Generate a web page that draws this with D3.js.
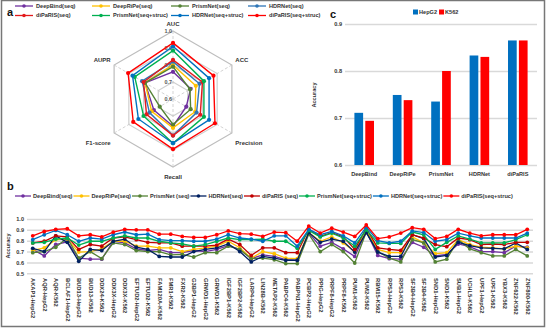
<!DOCTYPE html>
<html>
<head>
<meta charset="utf-8">
<script src="https://cdn.jsdelivr.net/npm/d3@7"></script>
<style>
  body { margin: 0; background: #fff; }
  svg { font-family: "Liberation Sans", Arial, sans-serif; font-weight: bold; }
</style>
</head>
<body>
<div id="chart"></div>
<script>
// ---- panel a: radar ----
const radarAxes = ["AUC", "ACC", "Precision", "Recall", "F1-score", "AUPR"];
const radarTicks = [0.6, 0.7, 0.8, 0.9, 1.0];
const modelNames = ["DeepBind(seq)", "DeepRiPe(seq)", "PrismNet(seq)", "HDRNet(seq)",
                    "diPaRIS(seq)", "PrismNet(seq+struc)", "HDRNet(seq+struc)", "diPaRIS(seq+struc)"];
const radarDeepBind    = [0.76, 0.72, 0.69, 0.76, 0.73, 0.79];
const radarDeepRiPe    = [0.80, 0.755, 0.75, 0.77, 0.745, 0.79];
const radarPrismSeq    = [0.79, 0.715, 0.72, 0.75, 0.69, 0.79];
const radarHdrSeq      = [0.82, 0.78, 0.76, 0.815, 0.76, 0.81];
const radarDiparisSeq  = [0.83, 0.80, 0.785, 0.815, 0.78, 0.80];
const radarPrismStruc  = [0.885, 0.81, 0.81, 0.86, 0.80, 0.86];
const radarHdrStruc    = [0.91, 0.845, 0.845, 0.86, 0.835, 0.875];
const radarDiparisStruc= [0.93, 0.875, 0.885, 0.895, 0.87, 0.905];

// ---- panel b: per-dataset accuracy ----
const datasets = ["AKAP1-HepG2","AQR-HepG2","AQR-K562","BCLAF1-HepG2","BUD13-HepG2","BUD13-K562",
  "DDX24-K562","DDX3X-HepG2","DDX3X-K562","EFTUD2-HepG2","EFTUD2-K562","FAM120A-K562","FMR1-K562",
  "FXR2-K562","G3BP1-HepG2","GRWD1-HepG2","GRWD1-K562","IGF2BP1-K562","IGF2BP2-K562","LARP4-HepG2",
  "LIN28B-K562","METAP2-K562","PABPC4-K562","PABPN1-HepG2","PCBP2-HepG2","PPIG-HepG2","PRPF8-HepG2",
  "PRPF8-K562","PUM1-K562","PUM2-K562","RBM15-K562","RPS3-HepG2","RPS3-K562","SF3B4-HepG2",
  "SF3B4-K562","SND1-HepG2","SND1-K562","SUB1-HepG2","UCHL5-K562","UPF1-HepG2","UPF1-K562",
  "YBX3-K562","ZNF622-K562","ZNF800-K562"];
const lineLegend = ["DeepBind(seq)", "DeepRiPe(seq)", "PrismNet (seq)", "HDRNet(seq)",
                    "diPaRIS (seq)", "PrismNet(seq+struc)", "HDRNet(seq+struc)", "diPaRIS(seq+struc)"];
const accDeepBind = [0.72,0.66,0.765,0.79,0.64,0.63,0.63,0.795,0.78,0.725,0.71,0.72,0.69,0.69,
  0.71,0.70,0.72,0.755,0.72,0.635,0.67,0.655,0.625,0.62,
  0.87,0.75,0.785,0.725,0.655,0.885,
  0.665,0.635,0.63,0.785,0.74,0.66,0.675,0.77,0.745,0.70,0.70,0.69,0.75,0.74];
const accDeepRiPe = [0.71,0.735,0.81,0.815,0.695,0.70,0.725,0.795,0.795,0.75,0.75,0.735,0.735,0.70,
  0.72,0.735,0.75,0.795,0.735,0.64,0.70,0.68,0.64,0.635,
  0.875,0.795,0.835,0.78,0.70,0.895,
  0.72,0.69,0.69,0.835,0.78,0.68,0.69,0.81,0.765,0.74,0.735,0.725,0.75,0.735];
const accPrismSeq = [0.69,0.70,0.74,0.825,0.64,0.70,0.635,0.78,0.765,0.71,0.70,0.70,0.67,0.675,
  0.65,0.69,0.69,0.75,0.72,0.635,0.64,0.625,0.59,0.59,
  0.86,0.70,0.765,0.70,0.595,0.88,
  0.70,0.64,0.605,0.81,0.78,0.605,0.63,0.81,0.725,0.69,0.66,0.66,0.72,0.66];
const accHdrSeq = [0.73,0.70,0.845,0.785,0.61,0.72,0.71,0.795,0.815,0.74,0.72,0.655,0.65,0.65,
  0.70,0.72,0.735,0.77,0.70,0.605,0.655,0.64,0.62,0.62,
  0.875,0.785,0.815,0.795,0.695,0.875,
  0.695,0.655,0.655,0.855,0.82,0.65,0.665,0.785,0.755,0.735,0.73,0.725,0.78,0.72];
const accDiparisSeq = [0.78,0.795,0.845,0.835,0.72,0.765,0.75,0.825,0.835,0.81,0.785,0.78,0.78,0.75,
  0.75,0.75,0.76,0.815,0.765,0.665,0.735,0.735,0.69,0.69,
  0.905,0.84,0.875,0.835,0.72,0.915,
  0.735,0.72,0.71,0.855,0.825,0.765,0.745,0.825,0.81,0.765,0.77,0.765,0.785,0.785];
const accPrismStruc = [0.78,0.785,0.815,0.825,0.76,0.795,0.795,0.825,0.845,0.825,0.825,0.795,0.78,0.77,
  0.75,0.765,0.795,0.825,0.81,0.81,0.815,0.795,0.795,0.73,
  0.895,0.835,0.87,0.825,0.75,0.90,
  0.78,0.775,0.775,0.88,0.855,0.72,0.785,0.845,0.815,0.78,0.78,0.78,0.81,0.855];
const accHdrStruc = [0.81,0.855,0.895,0.855,0.795,0.825,0.815,0.855,0.88,0.855,0.86,0.81,0.80,0.80,
  0.795,0.795,0.815,0.855,0.825,0.815,0.795,0.845,0.845,0.75,
  0.905,0.855,0.885,0.845,0.78,0.925,
  0.80,0.78,0.795,0.89,0.875,0.795,0.81,0.87,0.845,0.825,0.825,0.825,0.825,0.87];
const accDiparisStruc = [0.845,0.885,0.905,0.91,0.845,0.855,0.835,0.88,0.905,0.90,0.90,0.86,0.86,0.84,
  0.83,0.83,0.855,0.89,0.865,0.86,0.84,0.88,0.875,0.795,
  0.935,0.87,0.915,0.88,0.84,0.945,
  0.82,0.835,0.87,0.92,0.905,0.82,0.84,0.905,0.87,0.845,0.855,0.855,0.855,0.905];
const bTicks = [0.5, 0.6, 0.7, 0.8, 0.9, 1.0];

// ---- panel c: overall accuracy ----
const barModels = ["DeepBind", "DeepRiPe", "PrismNet", "HDRNet", "diPaRIS"];
const cellLines = ["HepG2", "K562"];
const accHepG2 = [0.711, 0.749, 0.735, 0.833, 0.865];
const accK562  = [0.694, 0.738, 0.800, 0.830, 0.865];
const cTicks = [0.6, 0.7, 0.8, 0.9];

const colorsA = ["#7030a0", "#ffc000", "#548235", "#2e75b6", "#e31a1c", "#00b050", "#0070c0", "#ff0000"];
const colorsB = ["#7030a0", "#ffc000", "#548235", "#002060", "#c00000", "#00b050", "#0070c0", "#ff0000"];
const textCol = "#333";
const gridCol = "#d9d9d9";

const W = 546, H = 329;
const svg = d3.select("#chart").append("svg").attr("width", W).attr("height", H);

// outer frame
svg.append("rect").attr("x", 1.5).attr("y", 0.5).attr("width", 543).attr("height", 326)
  .attr("fill", "none").attr("stroke", "#777").attr("stroke-width", 1.5);

// panel letters
[["a", 7, 16], ["b", 7, 190], ["c", 330, 18]].forEach(([t, x, y]) => {
  svg.append("text").attr("x", x).attr("y", y).attr("font-size", 11).attr("fill", "#111").text(t);
});

// ================= a =================
const radarSeries = [radarDeepBind, radarDeepRiPe, radarPrismSeq, radarHdrSeq,
                     radarDiparisSeq, radarPrismStruc, radarHdrStruc, radarDiparisStruc];

// legend a (two rows of four)
const legACols = [15, 92, 171, 248];
modelNames.forEach((name, i) => {
  const row = i < 4 ? 0 : 1, col = i % 4;
  const g = svg.append("g").attr("transform", `translate(${legACols[col]},${6 + row * 9.5})`);
  g.append("line").attr("x1", 0).attr("x2", 18).attr("stroke", colorsA[i]).attr("stroke-width", 1.3);
  g.append("circle").attr("cx", 9).attr("r", 1.8).attr("fill", colorsA[i]);
  g.append("text").attr("x", 21).attr("dy", "0.35em").attr("font-size", 5.6).attr("fill", textCol).text(name);
});

const cx = 173, cy = 99, R = 68;
const rScale = d3.scaleLinear().domain([0.6, 1.0]).range([0, R]);
const ang = i => -Math.PI / 2 + i * Math.PI / 3;
const pt = (v, i) => [cx + rScale(v) * Math.cos(ang(i)), cy + rScale(v) * Math.sin(ang(i))];
const ga = svg.append("g");

radarTicks.slice(1).forEach(t => {
  ga.append("path")
    .attr("d", d3.line()(radarAxes.map((_, i) => pt(t, i))) + "Z")
    .attr("fill", "none").attr("stroke", t === 1.0 ? "#bdbdbd" : "#cfcfcf").attr("stroke-width", 1.2);
});
radarAxes.forEach((_, i) => {
  const [x2, y2] = pt(1.0, i);
  ga.append("line").attr("x1", cx).attr("y1", cy).attr("x2", x2).attr("y2", y2)
    .attr("stroke", "#c8c8c8").attr("stroke-width", 0.8).attr("stroke-dasharray", "3,2");
});
radarTicks.forEach(t => {
  ga.append("text").attr("x", cx - 1).attr("y", cy - rScale(t)).attr("dy", "0.35em")
    .attr("text-anchor", "end").attr("font-size", 5.4).attr("fill", "#555").text(t.toFixed(1));
});

radarSeries.forEach((vals, s) => {
  const pts = vals.map((v, i) => pt(v, i));
  ga.append("path").attr("d", d3.line()(pts) + "Z")
    .attr("fill", "none").attr("stroke", colorsA[s]).attr("stroke-width", 1.4);
  ga.selectAll(null).data(pts).join("circle")
    .attr("cx", d => d[0]).attr("cy", d => d[1]).attr("r", 2.1).attr("fill", colorsA[s]);
});

// axis labels
radarAxes.forEach((name, i) => {
  const a = ang(i), c = Math.cos(a), s = Math.sin(a);
  let x, y, anchor = "middle";
  if (Math.abs(c) < 0.01) {
    x = cx; y = s < 0 ? cy - R - 5 : cy + R + 12;
  } else {
    x = cx + (R + 4) * c; y = cy + (R + 4) * s + (s < 0 ? -1 : 10);
    anchor = c > 0 ? "start" : "end";
  }
  ga.append("text").attr("x", x).attr("y", y).attr("text-anchor", anchor)
    .attr("font-size", 6).attr("fill", textCol).text(name);
});

// ================= c =================
const gc = svg.append("g");
const yC = d3.scaleLinear().domain([0.6, 0.9]).range([165, 24]);
const xC = d3.scaleBand().domain(barModels).range([345, 537]).paddingInner(0.49).paddingOuter(0.245);
const xSub = d3.scaleBand().domain(cellLines).range([0, xC.bandwidth()]).paddingInner(0.2);
const cColor = d3.scaleOrdinal().domain(cellLines).range(["#0070c0", "#ff0000"]);

gc.append("g").attr("transform", "translate(345,0)")
  .call(d3.axisLeft(yC).tickValues(cTicks).tickSize(-192).tickFormat(d3.format(".1f")))
  .call(g => g.select(".domain").remove())
  .call(g => g.selectAll(".tick line").attr("stroke", gridCol).attr("stroke-width", 1.5))
  .call(g => g.selectAll(".tick text").attr("x", -3).attr("font-size", 5.6).attr("fill", textCol)
    .attr("font-family", null).attr("font-weight", "bold"));

const barData = barModels.map((m, i) => ({ model: m, vals: [accHepG2[i], accK562[i]] }));
gc.selectAll("g.grp").data(barData).join("g").attr("class", "grp")
  .attr("transform", d => `translate(${xC(d.model)},0)`)
  .selectAll("rect").data(d => d.vals.map((v, j) => ({ line: cellLines[j], v })))
  .join("rect")
  .attr("x", d => xSub(d.line)).attr("width", xSub.bandwidth())
  .attr("y", d => yC(d.v)).attr("height", d => yC(0.6) - yC(d.v))
  .attr("fill", d => cColor(d.line));

gc.append("g").attr("transform", "translate(0,165)")
  .call(d3.axisBottom(xC).tickSize(0).tickPadding(7))
  .call(g => g.select(".domain").remove())
  .call(g => g.selectAll(".tick text").attr("font-size", 5.6).attr("fill", textCol)
    .attr("font-family", null).attr("font-weight", "bold"));

gc.append("text").attr("transform", "translate(316,95) rotate(-90)").attr("text-anchor", "middle")
  .attr("font-size", 5.6).attr("fill", textCol).text("Accuracy");

// legend c
const legC = gc.append("g").attr("transform", "translate(413,12)");
let lx = 0;
cellLines.forEach(c => {
  legC.append("rect").attr("x", lx).attr("y", -2.5).attr("width", 5).attr("height", 5).attr("fill", cColor(c));
  const t = legC.append("text").attr("x", lx + 6).attr("dy", "0.35em").attr("font-size", 5.6)
    .attr("fill", textCol).text(c);
  lx += 6 + t.node().getComputedTextLength() + 2;
});

// ================= b =================
const gb = svg.append("g");
const lineSeries = [accDeepBind, accDeepRiPe, accPrismSeq, accHdrSeq,
                    accDiparisSeq, accPrismStruc, accHdrStruc, accDiparisStruc];

// legend b in one row
let bx = 15;
lineLegend.forEach((name, i) => {
  const g = gb.append("g").attr("transform", `translate(${bx},196)`);
  g.append("line").attr("x1", 0).attr("x2", 16).attr("stroke", colorsB[i]).attr("stroke-width", 1.3);
  g.append("circle").attr("cx", 8).attr("r", 1.8).attr("fill", colorsB[i]);
  const t = g.append("text").attr("x", 18).attr("dy", "0.35em").attr("font-size", 5.6)
    .attr("fill", textCol).text(name);
  bx += 18 + t.node().getComputedTextLength() + 1;
});

const xB = d3.scalePoint().domain(datasets).range([27, 533]).padding(0.5);
const yB = d3.scaleLinear().domain([0.5, 1.0]).range([273.3, 219]);

gb.append("g").attr("transform", "translate(27,0)")
  .call(d3.axisLeft(yB).tickValues(bTicks).tickSize(-506).tickFormat(d3.format(".1f")))
  .call(g => g.select(".domain").remove())
  .call(g => g.selectAll(".tick line").attr("stroke", gridCol).attr("stroke-width", 1.5))
  .call(g => g.selectAll(".tick text").attr("x", -3).attr("font-size", 5.6).attr("fill", textCol)
    .attr("font-family", null).attr("font-weight", "bold"));

gb.append("text").attr("transform", "translate(10,246) rotate(-90)").attr("text-anchor", "middle")
  .attr("font-size", 5.6).attr("fill", textCol).text("Accuracy");

gb.append("g").attr("transform", "translate(0,276)")
  .call(d3.axisBottom(xB).tickSize(0).tickPadding(0))
  .call(g => g.select(".domain").remove())
  .call(g => g.selectAll(".tick text")
    .attr("font-size", 5.8).attr("fill", textCol).attr("font-family", null).attr("font-weight", "bold")
    .attr("text-anchor", "start").attr("transform", "rotate(90)").attr("x", 2).attr("y", 0).attr("dy", "0.35em"));

const lineGen = d3.line().x((d, i) => xB(datasets[i])).y(d => yB(d));
lineSeries.forEach((vals, s) => {
  gb.append("path").attr("d", lineGen(vals)).attr("fill", "none")
    .attr("stroke", colorsB[s]).attr("stroke-width", 1.3);
  gb.selectAll(null).data(vals).join("circle")
    .attr("cx", (d, i) => xB(datasets[i])).attr("cy", d => yB(d)).attr("r", 1.9)
    .attr("fill", colorsB[s]);
});
</script>
</body>
</html>
